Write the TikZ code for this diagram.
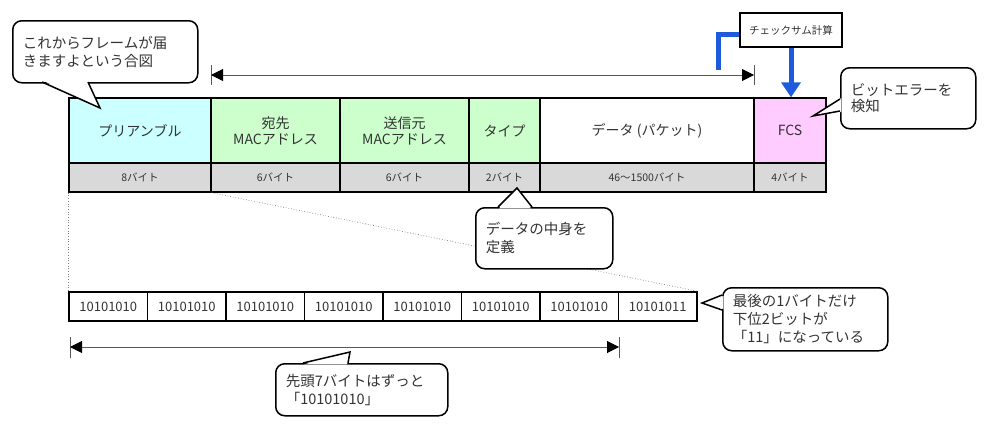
\documentclass[tikz,border=0pt]{standalone}
\usepackage{fontspec}
\setmainfont{Noto Sans CJK JP}
\usetikzlibrary{arrows.meta}
\definecolor{txt}{HTML}{333333}
\definecolor{cyanc}{HTML}{CCFFFF}
\definecolor{greenc}{HTML}{CCFFCC}
\definecolor{pinkc}{HTML}{FFCCFF}
\definecolor{grayc}{HTML}{D9D9D9}
\definecolor{bluec}{HTML}{1E5BDC}
\begin{document}
\begin{tikzpicture}[x=1pt,y=-1pt,
  cell/.style={draw, line width=1.4pt, inner sep=0pt, text=txt, align=center,
    font=\fontsize{14}{16}\selectfont, minimum height=65},
  bytec/.style={draw, line width=1.4pt, inner sep=0pt, fill=grayc, text=txt,
    font=\fontsize{10.5}{12}\selectfont, minimum height=29},
  bitc/.style={draw, line width=1.4pt, inner sep=0pt, fill=white, text=txt,
    font=\fontsize{13}{14}\selectfont, minimum height=29, minimum width=78.5},
  callout/.style={draw, line width=1.5pt, rounded corners=9pt, fill=white, text=txt,
    align=left, inner xsep=10pt, inner ysep=0pt, anchor=north west,
    font=\fontsize{14.5}{18}\selectfont},
  ptrfill/.style={fill=white},
  ptr/.style={draw=black, line width=1.5pt, line join=miter},
  dim/.style={draw=black!65, line width=1pt},
  dimarr/.style={dim, >={Triangle[length=12pt,width=12pt,color=black]}, <->},
  dots/.style={draw=black!50, line width=0.7pt, dotted},
  bluel/.style={draw=bluec, line width=5pt},
]
\useasboundingbox (0,0) rectangle (990,431);

% --- frame cells ---
\node[cell, fill=cyanc, minimum width=142] (pre) at (140,130.5) {プリアンブル};
\node[cell, fill=greenc, minimum width=129] (dst) at (275.5,130.5) {宛先\\MACアドレス};
\node[cell, fill=greenc, minimum width=129] (src) at (404.5,130.5) {送信元\\MACアドレス};
\node[cell, fill=greenc, minimum width=71] (typ) at (504.5,130.5) {タイプ};
\node[cell, fill=white, minimum width=214] (dat) at (647,130.5) {データ (パケット)};
\node[cell, fill=pinkc, minimum width=72] (fcs) at (790,130.5) {FCS};

\node[bytec, minimum width=142] (b1) at (140,177.5) {8バイト};
\node[bytec, minimum width=129] (b2) at (275.5,177.5) {6バイト};
\node[bytec, minimum width=129] (b3) at (404.5,177.5) {6バイト};
\node[bytec, minimum width=71] (b4) at (504.5,177.5) {2バイト};
\node[bytec, minimum width=214] (b5) at (647,177.5) {46～1500バイト};
\node[bytec, minimum width=72] (b6) at (790,177.5) {4バイト};

% --- preamble bits ---
\node[bitc] (bit1) at (108.25,306.5) {10101010};
\node[bitc] (bit2) at (186.75,306.5) {10101010};
\node[bitc] (bit3) at (265.25,306.5) {10101010};
\node[bitc] (bit4) at (343.75,306.5) {10101010};
\node[bitc] (bit5) at (422.25,306.5) {10101010};
\node[bitc] (bit6) at (500.75,306.5) {10101010};
\node[bitc] (bit7) at (579.25,306.5) {10101010};
\node[bitc] (bit8) at (657.75,306.5) {10101011};

% --- dotted zoom lines ---
\draw[dots] (b1.south west) -- (bit1.north west);
\draw[dots] (b1.south east) -- (bit8.north east);

% --- top dimension arrow ---
\coordinate (ta1) at (211,75);
\coordinate (ta2) at (754,75);
\draw[dim] ([yshift=10pt]ta1) -- ([yshift=-10pt]ta1);
\draw[dim] ([yshift=10pt]ta2) -- ([yshift=-10pt]ta2);
\draw[dimarr] (ta1) -- (ta2);

% --- bottom dimension arrow ---
\coordinate (ba1) at (70,347);
\coordinate (ba2) at (619,347);
\draw[dim] ([yshift=10pt]ba1) -- ([yshift=-11pt]ba1);
\draw[dim] ([yshift=10pt]ba2) -- ([yshift=-11pt]ba2);
\draw[dimarr] (ba1) -- (ba2);

% --- checksum ---
\node[draw, line width=1.6pt, fill=white, minimum width=102, minimum height=34,
  inner sep=0pt, text=txt, font=\fontsize{10.5}{12}\selectfont] (chk) at (791,30) {チェックサム計算};
\coordinate (bl) at (718,70);
\draw[bluel, line join=miter] ([yshift=-4pt]chk.west) -| (bl);
\draw[bluel, -{Triangle[length=15pt,width=19pt]}] (chk.south) -- (chk.south |- fcs.north);

% --- callout 1 ---
\node[callout, text width=165, minimum height=62] (c1) at (12,20) {これからフレームが届\\きますよという合図};
\fill[ptrfill] (43,80.6) -- (100,108) -- (87,80.6) -- cycle;
\draw[ptr] (42,82) -- (100,108) -- (88,82);

% --- callout 2 ---
\node[callout, text width=115, minimum height=61, font=\fontsize{14.5}{16}\selectfont] (c2) at (840,67) {ビットエラーを\\検知};
\fill[ptrfill] (841.4,98) -- (813,116) -- (841.4,112) -- cycle;
\draw[ptr] (840,99) -- (813,116) -- (840,111);

% --- callout 3 ---
\node[callout, text width=117, minimum height=61] (c3) at (475,207) {データの中身を\\定義};
\fill[ptrfill] (499,208.4) -- (517,188) -- (531,208.4) -- cycle;
\draw[ptr] (498,207) -- (517,188) -- (532,207);

% --- callout 4 ---
\node[callout, text width=152, minimum height=52] (c4) at (275,363) {先頭7バイトはずっと\\「10101010」};
\fill[ptrfill] (304,364.4) -- (350,352) -- (347,364.4) -- cycle;
\draw[ptr] (303,363) -- (350,352) -- (348,363);

% --- callout 5 ---
\node[callout, text width=145, minimum height=63] (c5) at (722,287) {最後の1バイトだけ\\下位2ビットが\\「11」になっている};
\fill[ptrfill] (723.4,296) -- (702,303) -- (723.4,309) -- cycle;
\draw[ptr] (722,295) -- (702,303) -- (722,310);
\end{tikzpicture}
\end{document}
